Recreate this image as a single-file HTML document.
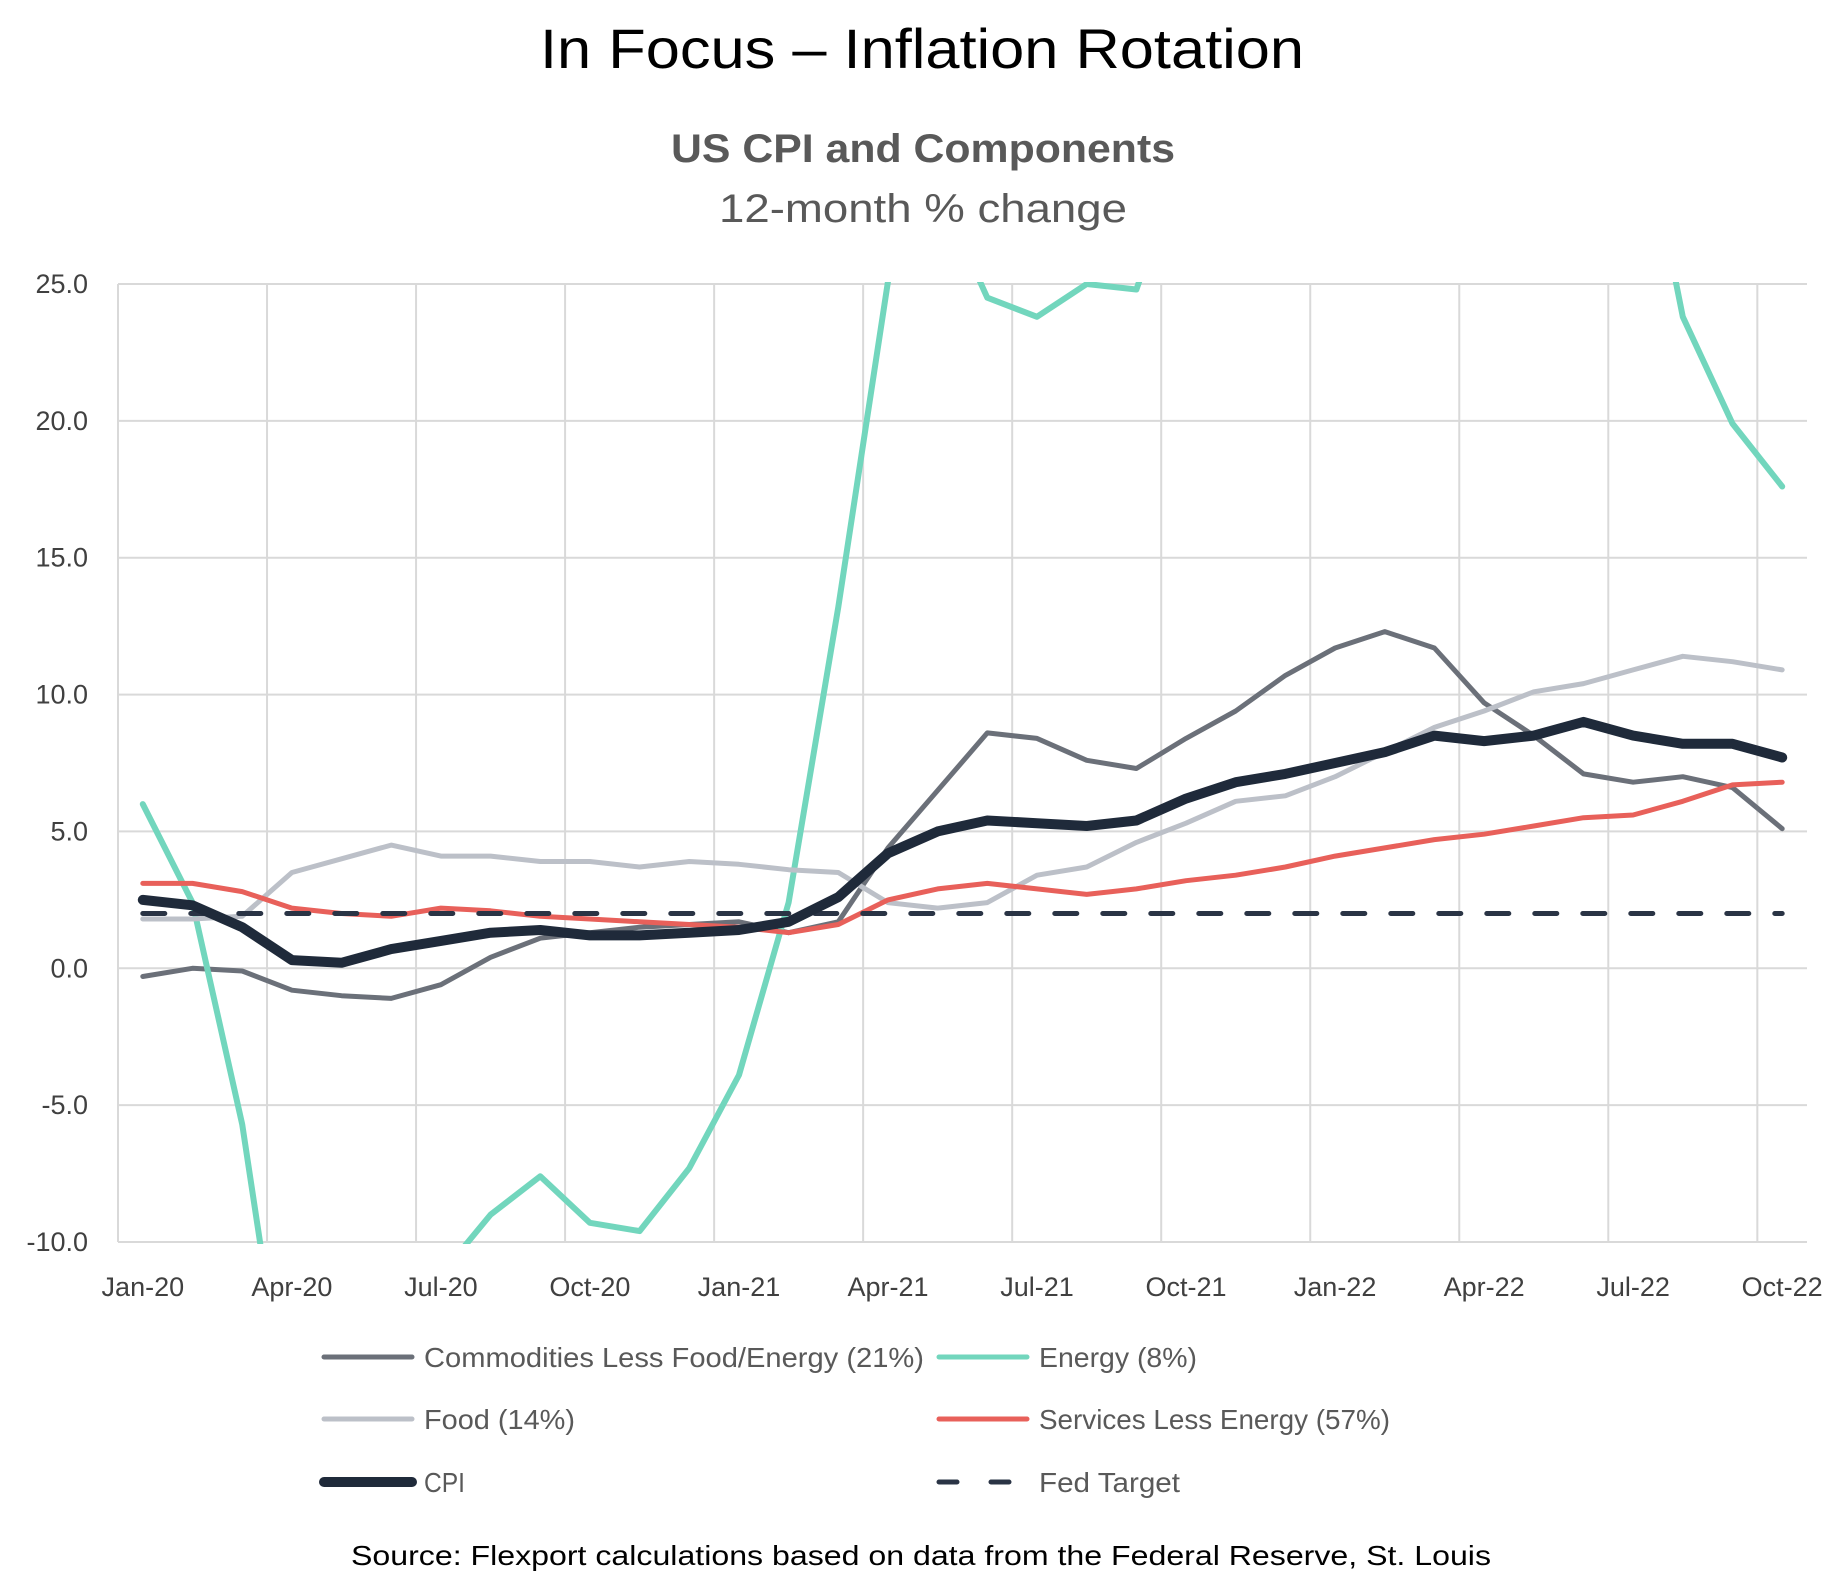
<!DOCTYPE html>
<html><head><meta charset="utf-8"><style>
html,body{margin:0;padding:0;background:#fff;}
svg{display:block;font-family:"Liberation Sans",sans-serif;}
</style></head><body>
<svg id="chart" width="1845" height="1595" viewBox="0 0 1845 1595">
<text x="922" y="68" text-anchor="middle" font-size="56" fill="#000" textLength="764" lengthAdjust="spacingAndGlyphs">In Focus – Inflation Rotation</text>
<text x="923" y="162" text-anchor="middle" font-size="40" font-weight="bold" fill="#595959" textLength="504" lengthAdjust="spacingAndGlyphs">US CPI and Components</text>
<text x="923" y="222" text-anchor="middle" font-size="40" fill="#595959" textLength="408" lengthAdjust="spacingAndGlyphs">12-month % change</text>
<g id="grid"></g>
<g id="yticks"></g>
<g id="xticks"></g>
<defs><clipPath id="plotclip"><rect x="118" y="282" width="1692" height="962"/></clipPath></defs>
<g id="series" clip-path="url(#plotclip)"></g>
<g id="legend"></g>
<text x="921" y="1565" text-anchor="middle" font-size="28" fill="#000" textLength="1140" lengthAdjust="spacingAndGlyphs">Source: Flexport calculations based on data from the Federal Reserve, St. Louis</text>
</svg>
<script>
const months = ["Jan-20","Feb-20","Mar-20","Apr-20","May-20","Jun-20","Jul-20","Aug-20","Sep-20","Oct-20","Nov-20","Dec-20","Jan-21","Feb-21","Mar-21","Apr-21","May-21","Jun-21","Jul-21","Aug-21","Sep-21","Oct-21","Nov-21","Dec-21","Jan-22","Feb-22","Mar-22","Apr-22","May-22","Jun-22","Jul-22","Aug-22","Sep-22","Oct-22"];
const xTickLabels = ["Jan-20","Apr-20","Jul-20","Oct-20","Jan-21","Apr-21","Jul-21","Oct-21","Jan-22","Apr-22","Jul-22","Oct-22"];
const yTicks = [-10,-5,0,5,10,15,20,25];
const commodities = [-0.3,0.0,-0.1,-0.8,-1.0,-1.1,-0.6,0.4,1.1,1.3,1.5,1.6,1.7,1.3,1.7,4.4,6.5,8.6,8.4,7.6,7.3,8.4,9.4,10.7,11.7,12.3,11.7,9.7,8.5,7.1,6.8,7.0,6.6,5.1];
const energy = [6.0,2.4,-5.7,-17.7,-18.9,-12.6,-11.2,-9.0,-7.6,-9.3,-9.6,-7.3,-3.9,2.4,13.2,25.1,28.5,24.5,23.8,25.0,24.8,30.0,33.3,29.3,27.0,25.6,32.0,30.3,34.6,41.6,32.9,23.8,19.9,17.6];
const food = [1.8,1.8,1.9,3.5,4.0,4.5,4.1,4.1,3.9,3.9,3.7,3.9,3.8,3.6,3.5,2.4,2.2,2.4,3.4,3.7,4.6,5.3,6.1,6.3,7.0,7.9,8.8,9.4,10.1,10.4,10.9,11.4,11.2,10.9];
const services = [3.1,3.1,2.8,2.2,2.0,1.9,2.2,2.1,1.9,1.8,1.7,1.6,1.5,1.3,1.6,2.5,2.9,3.1,2.9,2.7,2.9,3.2,3.4,3.7,4.1,4.4,4.7,4.9,5.2,5.5,5.6,6.1,6.7,6.8];
const cpi = [2.5,2.3,1.5,0.3,0.2,0.7,1.0,1.3,1.4,1.2,1.2,1.3,1.4,1.7,2.6,4.2,5.0,5.4,5.3,5.2,5.4,6.2,6.8,7.1,7.5,7.9,8.5,8.3,8.5,9.0,8.5,8.2,8.2,7.7];
const fedTarget = 2.0;

const NS="http://www.w3.org/2000/svg";
const L=118,R=1807,T=284,B=1242,YMIN=-10,YMAX=25;
const bw=(R-L)/months.length;
function xScale(i){return L+(i+0.5)*bw;}
function yScale(v){return B-(v-YMIN)/(YMAX-YMIN)*(B-T);}
function mk(tag,attrs,parent){const e=document.createElementNS(NS,tag);for(const k in attrs)e.setAttribute(k,attrs[k]);parent.appendChild(e);return e;}
const grid=document.getElementById('grid'),yt=document.getElementById('yticks'),xt=document.getElementById('xticks'),ser=document.getElementById('series'),leg=document.getElementById('legend');

yTicks.forEach(v=>{
  const y=yScale(v);
  const ln=mk('line',{x1:L,x2:R,y1:y,y2:y,stroke:'#d9d9d9','stroke-width':2},grid);
  
  
  const t=mk('text',{x:88,y:y+9,'text-anchor':'end','font-size':27,fill:'#404040'},yt);
  t.textContent=v.toFixed(1);
  
  
});
for(let k=0;k<=months.length;k+=3){
  const x=L+k*bw;
  const ln=mk('line',{x1:x,x2:x,y1:T,y2:B,stroke:'#d9d9d9','stroke-width':2},grid);
  
  
}
xTickLabels.forEach(lab=>{
  const i=months.indexOf(lab);
  const t=mk('text',{x:xScale(i),y:1296,'text-anchor':'middle','font-size':27,fill:'#404040'},xt);
  t.textContent=lab;
  
  
});

function line(vals,color,w,name,dash){
  const d=vals.map((v,i)=>(i?'L':'M')+xScale(i).toFixed(1)+','+yScale(v).toFixed(1)).join(' ');
  const p=mk('path',{d:d,fill:'none',stroke:color,'stroke-width':w,'stroke-linejoin':'round','stroke-linecap':'round'},ser);
  if(dash)p.setAttribute('stroke-dasharray',dash);
  
  
}
line(commodities,'#6b7079',5,'commodities-line');
line(energy,'#72d6bd',6,'energy-line');
line(food,'#bcc0c8',5,'food-line');
line(services,'#e8605a',5,'services-line');
line(months.map(()=>fedTarget),'#2a3445',5,'fed-target-line','22 26');
line(cpi,'#1f2a3a',10,'cpi-line');

const items=[
 ['Commodities Less Food/Energy (21%)','#6b7079',5,320,1357,null,500],
 ['Energy (8%)','#72d6bd',5,935,1357,null,158],
 ['Food (14%)','#bcc0c8',5,320,1419,null,151],
 ['Services Less Energy (57%)','#e8605a',5,935,1419,null,351],
 ['CPI','#1f2a3a',10,320,1482,null,41],
 ['Fed Target','#2a3445',5,935,1482,'18 34',141]
];
items.forEach(it=>{
  const g=mk('g',{},leg);
  
  
  const l=mk('line',{x1:it[3]+4,x2:it[3]+92,y1:it[4],y2:it[4],stroke:it[1],'stroke-width':it[2],'stroke-linecap':'round'},g);
  if(it[5])l.setAttribute('stroke-dasharray',it[5]);
  const t=mk('text',{x:it[3]+104,y:it[4]+10,'font-size':28,fill:'#595959'},g);
  if(it[6]){t.setAttribute('textLength',it[6]);t.setAttribute('lengthAdjust','spacingAndGlyphs');}
  t.textContent=it[0];
});
</script>
</body></html>
